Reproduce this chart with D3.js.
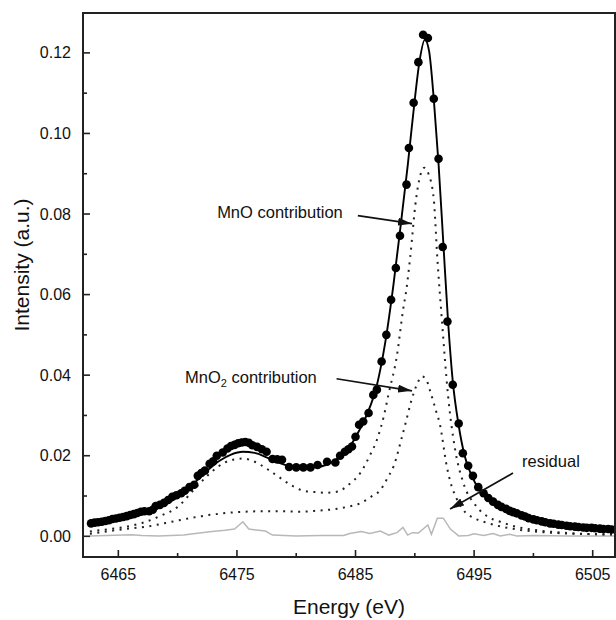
<!DOCTYPE html>
<html>
<head>
<meta charset="utf-8">
<script src="https://cdn.jsdelivr.net/npm/d3@7"></script>
<style>
  body { margin: 0; background: #fff; }
  svg { display: block; font-family: "Liberation Sans", Arial, sans-serif; }
</style>
</head>
<body>
<div id="chart"></div>
<script>
// --- measured spectrum (filled circles) ---
const expEnergy = [6462.7, 6463.0, 6463.3, 6463.6, 6463.9, 6464.2, 6464.5, 6464.8, 6465.1, 6465.4,
  6465.7, 6466.0, 6466.3, 6466.6, 6466.9, 6467.2, 6467.6, 6467.9, 6468.15, 6468.5,
  6468.85, 6469.2, 6469.55, 6469.9, 6470.3, 6470.6, 6471.0, 6471.4, 6471.7, 6472.0,
  6472.3, 6472.7, 6473.0, 6473.3, 6473.8, 6474.2, 6474.5, 6474.8, 6475.1, 6475.4,
  6475.7, 6476.0, 6476.3, 6476.7, 6477.1, 6477.5, 6478.0, 6478.4, 6478.8, 6479.4,
  6480.0, 6480.6, 6481.2, 6481.8, 6482.6, 6483.3, 6483.7, 6484.1, 6484.4, 6484.7,
  6485.0, 6485.3, 6485.65, 6486.1, 6486.5, 6486.8, 6487.2, 6487.6, 6488.0, 6488.4,
  6488.75, 6489.3, 6489.5, 6489.9, 6490.3, 6490.7, 6491.1, 6491.6, 6492.0, 6492.35,
  6492.75, 6493.2, 6493.7, 6494.05, 6494.5, 6494.9, 6495.35, 6495.8, 6496.2, 6496.6,
  6497.0, 6497.3, 6497.7, 6498.0, 6498.3, 6498.6, 6499.0, 6499.3, 6499.6, 6500.0,
  6500.3, 6500.7, 6501.0, 6501.4, 6501.7, 6502.1, 6502.4, 6502.8, 6503.1, 6503.5,
  6503.8, 6504.2, 6504.5, 6504.9, 6505.2, 6505.6, 6505.9, 6506.3, 6506.6, 6507.0];
const expIntensity = [0.0032, 0.0034, 0.0035, 0.0036, 0.0038, 0.0040, 0.0043, 0.0044, 0.0046, 0.0048,
  0.0050, 0.0053, 0.0055, 0.0058, 0.0061, 0.0062, 0.0062, 0.0066, 0.0075, 0.0078,
  0.0083, 0.0090, 0.0098, 0.0102, 0.0107, 0.0113, 0.0122, 0.0128, 0.0150, 0.0157,
  0.0163, 0.0180, 0.0186, 0.0200, 0.0208, 0.0218, 0.0224, 0.0227, 0.0231, 0.0233,
  0.0234, 0.0232, 0.0226, 0.0222, 0.0216, 0.0210, 0.0192, 0.0191, 0.0190, 0.0172,
  0.0171, 0.0171, 0.0171, 0.0177, 0.0185, 0.0183, 0.0200, 0.0210, 0.0216, 0.0223,
  0.0247, 0.0277, 0.0285, 0.0306, 0.0351, 0.0364, 0.0434, 0.0500, 0.0587, 0.0666,
  0.0746, 0.0873, 0.0964, 0.1076, 0.1177, 0.1245, 0.1237, 0.1086, 0.0937, 0.0718,
  0.0533, 0.0376, 0.0280, 0.0206, 0.0175, 0.0150, 0.0122, 0.0107, 0.0095, 0.0086,
  0.0078, 0.0073, 0.0068, 0.0063, 0.0060, 0.0057, 0.0052, 0.0049, 0.0045, 0.0042,
  0.0040, 0.0037, 0.0035, 0.0032, 0.0031, 0.0029, 0.0028, 0.0026, 0.0025, 0.0024,
  0.0023, 0.0022, 0.0021, 0.0021, 0.0020, 0.0019, 0.0018, 0.0018, 0.0017, 0.0016];

// --- total fit (solid line) ---
const fitEnergy = [6462.6, 6464, 6466, 6468, 6469.5, 6470.5, 6471.5, 6472.5, 6473.5, 6474.5,
  6475.5, 6476.5, 6477.5, 6478.5, 6479.5, 6480.5, 6481.5, 6482.5, 6483.5, 6484.5,
  6485.3, 6486, 6486.8, 6487.5, 6488.2, 6488.8, 6489.4, 6490, 6490.4, 6490.85,
  6491.2, 6491.6, 6492.0, 6492.4, 6492.8, 6493.2, 6493.7, 6494.2, 6494.8, 6495.5,
  6496.5, 6497.5, 6498.5, 6500, 6501.5, 6503, 6505, 6507];
const fitIntensity = [0.0030, 0.0037, 0.0050, 0.0067, 0.0088, 0.0108, 0.0135, 0.0163, 0.0187, 0.0203,
  0.0210, 0.0207, 0.0196, 0.0183, 0.0174, 0.0170, 0.0171, 0.0177, 0.0193, 0.0222,
  0.0262, 0.0305, 0.0375, 0.0480, 0.0625, 0.0770, 0.0920, 0.1085, 0.1180, 0.1233,
  0.1205, 0.1085, 0.0925, 0.0730, 0.0535, 0.0385, 0.0275, 0.0200, 0.0150, 0.0113,
  0.0085, 0.0068, 0.0056, 0.0042, 0.0032, 0.0026, 0.0020, 0.0016];

// --- MnO component (dotted) ---
const mnoEnergy = [6462.6, 6464, 6465.5, 6467, 6468.5, 6470, 6471.5, 6472.5, 6473.5, 6474.5,
  6475.5, 6476.5, 6477.5, 6478.5, 6479.5, 6480.5, 6481.5, 6482.5, 6483.5, 6484.5,
  6485.4, 6486.2, 6486.8, 6487.4, 6487.8, 6488.5, 6489.0, 6489.3, 6489.6, 6490.1,
  6490.45, 6490.8, 6491.15, 6491.6, 6491.9, 6492.3, 6492.8, 6493.4, 6494.1, 6495.2,
  6496.2, 6497.2, 6498.5, 6500, 6502, 6504.2, 6507];
const mnoIntensity = [0.0012, 0.0017, 0.0023, 0.0033, 0.0050, 0.0073, 0.0120, 0.0150, 0.0175, 0.0189,
  0.0193, 0.0185, 0.0168, 0.0148, 0.0128, 0.0114, 0.0110, 0.0108, 0.0111, 0.0130,
  0.0157, 0.0200, 0.0239, 0.0300, 0.0355, 0.0450, 0.0560, 0.0615, 0.0690, 0.0836,
  0.0895, 0.0915, 0.0900, 0.0836, 0.0690, 0.0530, 0.0350, 0.0215, 0.0132, 0.0074,
  0.0048, 0.0036, 0.0024, 0.0016, 0.0010, 0.0006, 0.0004];

// --- MnO2 component (dotted) ---
const mno2Energy = [6462.6, 6464, 6465.5, 6467.4, 6469, 6470.5, 6472, 6473.5, 6475, 6477,
  6479, 6480.3, 6481.5, 6483.1, 6484.3, 6485.4, 6486.3, 6487.1, 6487.7, 6488.2,
  6489.0, 6489.9, 6490.3, 6490.6, 6490.95, 6491.3, 6491.8, 6492.1, 6492.7, 6493.0,
  6493.5, 6494.1, 6495, 6495.8, 6497, 6498, 6500, 6502, 6504, 6507];
const mno2Intensity = [0.0006, 0.0012, 0.0018, 0.0024, 0.0033, 0.0042, 0.0050, 0.0056, 0.0060, 0.0062,
  0.0062, 0.0061, 0.0063, 0.0067, 0.0073, 0.0082, 0.0098, 0.0115, 0.0145, 0.0173,
  0.0256, 0.0355, 0.0385, 0.0397, 0.0390, 0.0360, 0.0310, 0.0280, 0.0173, 0.0135,
  0.0095, 0.0065, 0.0045, 0.0036, 0.0026, 0.0020, 0.0012, 0.0008, 0.0006, 0.0005];

// --- residual (grey) ---
const resEnergy = [6462.6, 6464, 6466.1, 6467, 6468.4, 6470.5, 6471.5, 6472.9, 6474, 6474.8,
  6475.5, 6476, 6477.4, 6478, 6480, 6482, 6484, 6484.5, 6485.5, 6486.2,
  6487.1, 6487.8, 6488.5, 6489.0, 6489.4, 6489.8, 6490.3, 6491.1, 6491.4, 6491.9,
  6492.4, 6493, 6493.7, 6494.5, 6495, 6495.8, 6496.6, 6497.2, 6498, 6498.6,
  6500, 6503, 6507];
const resIntensity = [0.0001, 0.0002, 0.0004, 0.0002, 0.0001, 0.0003, 0.0007, 0.0012, 0.0015, 0.0018,
  0.0036, 0.0018, 0.0013, 0.0003, 0.0001, 0.0002, 0.0002, 0.0007, 0.0012, 0.0007,
  0.0013, 0.0003, 0.0009, 0.0022, 0.0003, 0.0009, 0.0008, 0.0028, 0.0005, 0.0045,
  0.0045, 0.0018, 0.0001, 0.0002, 0.0006, 0.0002, 0.0007, 0.0001, 0.0005, 0.0001,
  0.0002, 0.0001, 0.0001];

// --- axes ---
const xMajor = [6465, 6475, 6485, 6495, 6505];
const xMinor = [6470, 6480, 6490, 6500];
const yMajor = [0.00, 0.02, 0.04, 0.06, 0.08, 0.10, 0.12];
const yMinor = [0.01, 0.03, 0.05, 0.07, 0.09, 0.11];

// --- annotations (data coordinates) ---
const labels = [
  { text: "MnO", sub: "", rest: " contribution", x: 6473.33, y: 0.0791, from: [6485.2, 0.0796], to: [6489.76, 0.0776] },
  { text: "MnO", sub: "2", rest: " contribution", x: 6470.62, y: 0.0381, from: [6483.4, 0.0391], to: [6489.76, 0.0361] },
  { text: "residual", sub: "", rest: "", x: 6499.04, y: 0.0172, from: [6498.28, 0.0157], to: [6492.97, 0.0068] }
];

const width = 616, height = 620;
const margin = { top: 13, right: 1, bottom: 63, left: 83 };

const svg = d3.select("#chart").append("svg")
  .attr("width", width)
  .attr("height", height);

const x = d3.scaleLinear()
  .domain([6462.02, 6506.88])
  .range([margin.left, width - margin.right]);

const y = d3.scaleLinear()
  .domain([-0.00514, 0.1299])
  .range([height - margin.bottom, margin.top]);

const zip = (xs, ys) => xs.map((v, i) => [v, ys[i]]);
const line = d3.line().x(d => x(d[0])).y(d => y(d[1]));

// clip to plot area
svg.append("clipPath").attr("id", "clip")
  .append("rect")
  .attr("x", margin.left).attr("y", margin.top)
  .attr("width", width - margin.left - margin.right)
  .attr("height", height - margin.top - margin.bottom);

const plot = svg.append("g").attr("clip-path", "url(#clip)");

// residual
plot.append("path")
  .datum(zip(resEnergy, resIntensity))
  .attr("fill", "none")
  .attr("stroke", "#b8b8b8")
  .attr("stroke-width", 1.5)
  .attr("d", line);

// components (dotted)
[zip(mnoEnergy, mnoIntensity), zip(mno2Energy, mno2Intensity)].forEach(d => {
  plot.append("path")
    .datum(d)
    .attr("fill", "none")
    .attr("stroke", "#222")
    .attr("stroke-width", 2)
    .attr("stroke-dasharray", "2,5.5")
    .attr("d", line.curve(d3.curveMonotoneX));
});

// fit line
plot.append("path")
  .datum(zip(fitEnergy, fitIntensity))
  .attr("fill", "none")
  .attr("stroke", "#000")
  .attr("stroke-width", 1.9)
  .attr("d", line.curve(d3.curveMonotoneX));

// data points
plot.selectAll("circle")
  .data(zip(expEnergy, expIntensity))
  .enter()
  .append("circle")
  .attr("cx", d => x(d[0]))
  .attr("cy", d => y(d[1]))
  .attr("r", 4.3)
  .attr("fill", "#000");

// --- frame and ticks ---
const axisG = svg.append("g").attr("stroke", "#222");
axisG.append("rect")
  .attr("x", margin.left).attr("y", margin.top)
  .attr("width", width - margin.left - margin.right)
  .attr("height", height - margin.top - margin.bottom)
  .attr("fill", "none")
  .attr("stroke-width", 2);

const x0 = margin.left, yB = height - margin.bottom;
axisG.selectAll(".xt")
  .data(xMajor.map(v => [v, 7]).concat(xMinor.map(v => [v, 4])))
  .enter().append("line")
  .attr("x1", d => x(d[0])).attr("x2", d => x(d[0]))
  .attr("y1", yB).attr("y2", d => yB - d[1])
  .attr("stroke-width", 1.6);

axisG.selectAll(".yt")
  .data(yMajor.map(v => [v, 7]).concat(yMinor.map(v => [v, 4])))
  .enter().append("line")
  .attr("x1", x0).attr("x2", d => x0 + d[1])
  .attr("y1", d => y(d[0])).attr("y2", d => y(d[0]))
  .attr("stroke-width", 1.6);

// tick labels
svg.selectAll(".xl")
  .data(xMajor)
  .enter().append("text")
  .attr("x", d => x(d))
  .attr("y", 580)
  .attr("text-anchor", "middle")
  .attr("font-size", 16)
  .attr("fill", "#111")
  .text(d => d);

svg.selectAll(".yl")
  .data(yMajor)
  .enter().append("text")
  .attr("x", 71)
  .attr("y", d => y(d))
  .attr("dy", "0.35em")
  .attr("text-anchor", "end")
  .attr("font-size", 16)
  .attr("fill", "#111")
  .text(d => d.toFixed(2));

// axis titles
svg.append("text")
  .attr("x", 349)
  .attr("y", 614)
  .attr("text-anchor", "middle")
  .attr("font-size", 21)
  .attr("fill", "#111")
  .text("Energy (eV)");

svg.append("text")
  .attr("transform", "translate(29,265) rotate(-90)")
  .attr("text-anchor", "middle")
  .attr("font-size", 21)
  .attr("fill", "#111")
  .text("Intensity (a.u.)");

// --- annotations ---
svg.append("defs").append("marker")
  .attr("id", "arrow")
  .attr("viewBox", "0 0 14 8")
  .attr("refX", 14).attr("refY", 4)
  .attr("markerWidth", 14).attr("markerHeight", 8)
  .attr("markerUnits", "userSpaceOnUse")
  .attr("orient", "auto")
  .append("path")
  .attr("d", "M0,0 L14,4 L0,8 Z")
  .attr("fill", "#111");

labels.forEach(a => {
  svg.append("line")
    .attr("x1", x(a.from[0])).attr("y1", y(a.from[1]))
    .attr("x2", x(a.to[0])).attr("y2", y(a.to[1]))
    .attr("stroke", "#111")
    .attr("stroke-width", 1.7)
    .attr("marker-end", "url(#arrow)");

  const t = svg.append("text")
    .attr("x", x(a.x))
    .attr("y", y(a.y))
    .attr("font-size", 16.5)
    .attr("fill", "#111");
  t.append("tspan").text(a.text);
  if (a.sub) {
    t.append("tspan").attr("font-size", 11).attr("dy", 4).text(a.sub);
    t.append("tspan").attr("dy", -4).text(a.rest);
  } else {
    t.append("tspan").text(a.rest);
  }
});
</script>
</body>
</html>
